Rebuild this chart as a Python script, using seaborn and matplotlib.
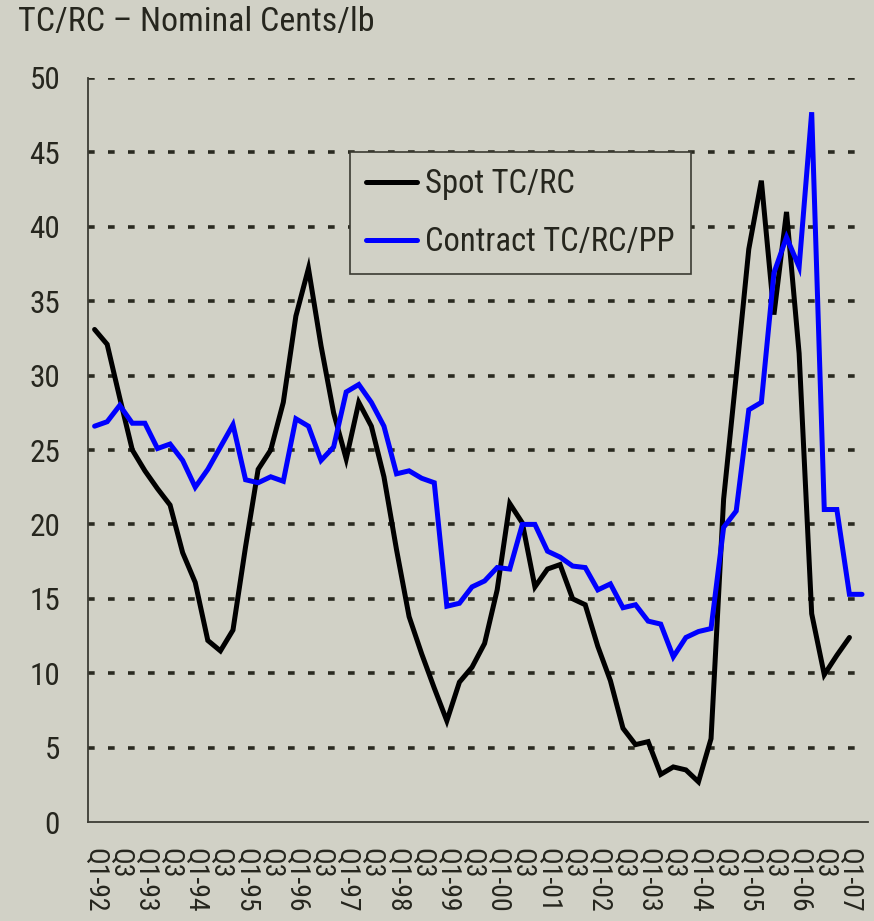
import numpy as np
import pandas as pd
import matplotlib
matplotlib.use("Agg")
import matplotlib.pyplot as plt
from matplotlib import font_manager as fm
import seaborn as sns

# ---------------- data ----------------
years = [f"{y:02d}" for y in list(range(92, 100)) + list(range(0, 8))]
quarters = [f"Q{q}-{y}" for y in years for q in (1, 2, 3, 4)][:62]   # Q1-92 .. Q2-07

spot = [33.1, 32.1, 28.5, 25.0, 23.6, 22.4, 21.3, 18.1, 16.1, 12.2,
        11.5, 12.9, 18.5, 23.7, 25.0, 28.2, 34.0, 37.2, 32.0, 27.5,
        24.4, 28.2, 26.6, 23.2, 18.3, 13.8, 11.3, 9.0, 6.8, 9.4,
        10.4, 12.0, 15.6, 21.4, 20.1, 15.8, 17.0, 17.3, 15.0, 14.6,
        11.8, 9.5, 6.3, 5.2, 5.4, 3.2, 3.7, 3.5, 2.7, 5.6,
        21.7, 30.0, 38.5, 43.1, 34.1, 41.0, 31.5, 14.0, 9.9, 11.2,
        12.4]

contract = [26.6, 26.9, 28.0, 26.8, 26.8, 25.1, 25.4, 24.3, 22.5, 23.7,
            25.2, 26.7, 23.0, 22.8, 23.2, 22.9, 27.1, 26.6, 24.3, 25.2,
            28.9, 29.4, 28.2, 26.6, 23.4, 23.6, 23.1, 22.8, 14.5, 14.7,
            15.8, 16.2, 17.1, 17.0, 20.0, 20.0, 18.2, 17.8, 17.2, 17.1,
            15.6, 16.0, 14.4, 14.6, 13.5, 13.3, 11.1, 12.4, 12.8, 13.0,
            19.8, 20.9, 27.7, 28.2, 36.9, 39.3, 37.3, 47.7, 21.0, 21.0,
            15.3, 15.3]

tick_labels = [q if q.startswith("Q1") else ("Q3" if q.startswith("Q3") else "")
               for q in quarters]
y_ticks = [0, 5, 10, 15, 20, 25, 30, 35, 40, 45, 50]
title = "TC/RC \u2013 Nominal Cents/lb"
series_names = ["Spot TC/RC", "Contract TC/RC/PP"]

# ---------------- style ----------------
BG = "#d1d1c6"
TXT = "#26261e"
GRID = "#2a2a20"

sns.set_style("white")
names = {f.name for f in fm.fontManager.ttflist}
fam = None
for cand in ["Liberation Sans Narrow", "Roboto Condensed", "Arial Narrow", "Liberation Sans"]:
    if cand in names:
        fam = cand
        break
plt.rcParams["font.family"] = [fam or "DejaVu Sans", "DejaVu Sans"]
plt.rcParams["lines.scale_dashes"] = False

fig = plt.figure(figsize=(8.74, 9.21), dpi=100, facecolor=BG)
ax = fig.add_axes([88.3 / 874, 99 / 921, 780 / 874, 744 / 921])
ax.set_facecolor(BG)

df_spot = pd.DataFrame({"q": np.arange(len(spot)), "v": spot})
df_con = pd.DataFrame({"q": np.arange(len(contract)), "v": contract})

for yv in y_ticks[1:]:
    ax.axhline(yv, color=GRID, lw=2.6, linestyle=(0, (4.8, 9.6)),
               dash_capstyle="butt", zorder=1)

sns.lineplot(data=df_spot, x="q", y="v", ax=ax, color="#000000", lw=3.6,
             label=series_names[0], solid_joinstyle="miter", zorder=3)
sns.lineplot(data=df_con, x="q", y="v", ax=ax, color="#0000ff", lw=3.6,
             label=series_names[1], solid_joinstyle="miter", zorder=4)

ax.set_xlim(-0.5, len(quarters) - 0.5)
ax.set_ylim(0, 50)
ax.set_xlabel("")
ax.set_ylabel("")

# y axis
ax.set_yticks(y_ticks)
ax.set_yticklabels([str(v) for v in y_ticks])
ax.tick_params(axis="y", which="major", direction="out", length=8.3, width=1.2,
               color="#3c3c34", pad=12, labelsize=22.5, labelcolor=TXT)

# x axis: boundary ticks + centred labels
ax.set_xticks(np.arange(-0.5, len(quarters), 1.0))
ax.set_xticklabels([])
ax.tick_params(axis="x", which="major", direction="out", length=7.2, width=1.2,
               color="#3c3c34")
lab_pos = [i for i, t in enumerate(tick_labels) if t]
ax.set_xticks(lab_pos, minor=True)
ax.set_xticklabels([tick_labels[i] for i in lab_pos], minor=True, rotation=-90,
                   fontsize=20, color=TXT)
ax.tick_params(axis="x", which="minor", length=0, pad=19)

for s in ["top", "right"]:
    ax.spines[s].set_visible(False)
for s in ["left", "bottom"]:
    ax.spines[s].set_color("#3c3c34")
    ax.spines[s].set_linewidth(1.3)
    ax.spines[s].set_zorder(5)

leg = ax.legend(loc="upper left", bbox_to_anchor=((350 - 88.3) / 780, (822 - 151.7) / 744),
                borderaxespad=0, fontsize=23.5, frameon=True, fancybox=False,
                handlelength=1.55, handletextpad=0.25, labelspacing=0.8,
                borderpad=0.5, labelcolor=TXT)
leg.get_frame().set_facecolor(BG)
leg.get_frame().set_edgecolor("#3a3a32")
leg.get_frame().set_linewidth(1.2)
leg.get_frame().set_alpha(1)
leg.set_zorder(10)

fig.text(18 / 874, 1 - 6 / 921, title, fontsize=24.5, color=TXT, ha="left", va="top")

fig.savefig("out.png", dpi=100, facecolor=BG)
